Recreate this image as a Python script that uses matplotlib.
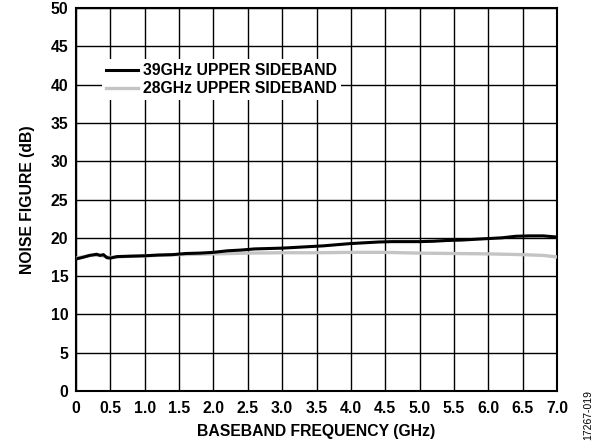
import matplotlib
matplotlib.use("Agg")
import matplotlib.pyplot as plt

freq_39 = [0.03, 0.1, 0.2, 0.3, 0.35, 0.4, 0.45, 0.5, 0.6, 0.8, 1.0, 1.2, 1.4, 1.6, 1.8,
           2.0, 2.2, 2.4, 2.6, 2.8, 3.0, 3.2, 3.4, 3.6, 3.8, 4.0, 4.2, 4.4, 4.6, 4.8,
           5.0, 5.2, 5.4, 5.6, 5.8, 6.0, 6.2, 6.4, 6.6, 6.8, 7.0]
nf_39 = [17.3, 17.45, 17.7, 17.85, 17.7, 17.8, 17.4, 17.35, 17.55, 17.6, 17.65, 17.75, 17.8, 17.95, 18.0,
         18.1, 18.3, 18.4, 18.55, 18.6, 18.65, 18.75, 18.85, 18.95, 19.1, 19.25, 19.35, 19.45, 19.5, 19.5,
         19.5, 19.55, 19.65, 19.7, 19.8, 19.9, 20.0, 20.2, 20.25, 20.25, 20.1]

freq_28 = [0.03, 0.2, 0.35, 0.45, 0.5, 0.8, 1.0, 1.2, 1.5, 2.0, 2.5, 3.0, 3.5, 4.0, 4.5,
           5.0, 5.5, 6.0, 6.5, 6.8, 7.0]
nf_28 = [17.4, 17.7, 17.7, 17.5, 17.45, 17.6, 17.65, 17.7, 17.8, 17.9, 18.0, 18.05, 18.05, 18.1, 18.1,
         18.0, 17.95, 17.9, 17.8, 17.7, 17.5]

x_ticks = [0, 0.5, 1.0, 1.5, 2.0, 2.5, 3.0, 3.5, 4.0, 4.5, 5.0, 5.5, 6.0, 6.5, 7.0]
x_labels = ["0", "0.5", "1.0", "1.5", "2.0", "2.5", "3.0", "3.5", "4.0", "4.5", "5.0", "5.5", "6.0", "6.5", "7.0"]
y_ticks = [0, 5, 10, 15, 20, 25, 30, 35, 40, 45, 50]

plt.rcParams['font.family'] = ['Liberation Sans', 'DejaVu Sans']
plt.rcParams['font.weight'] = 'bold'

FS = 11.3

fig = plt.figure(figsize=(6.07, 4.46), dpi=100)
ax = fig.add_axes([76/607, 55/446, 481/607, 383/446])

ax.plot(freq_28, nf_28, color='#c4c4c4', lw=2.4, label='28GHz UPPER SIDEBAND', zorder=3)
ax.plot(freq_39, nf_39, color='black', lw=2.2, label='39GHz UPPER SIDEBAND', zorder=4)

ax.set_xlim(0, 7.0)
ax.set_ylim(0, 50)
ax.set_xticks(x_ticks)
ax.set_xticklabels(x_labels, fontsize=FS, fontweight='bold')
ax.set_yticks(y_ticks)
ax.set_yticklabels([str(v) for v in y_ticks], fontsize=FS, fontweight='bold')
ax.tick_params(axis='x', length=0, pad=7)
ax.tick_params(axis='y', length=0, pad=5.5)
ax.grid(True, color='black', lw=1.0)
for s in ax.spines.values():
    s.set_linewidth(1.5)

ax.set_xlabel('BASEBAND FREQUENCY (GHz)', fontsize=FS, fontweight='bold', labelpad=6)
ax.set_ylabel('NOISE FIGURE (dB)', fontsize=FS, fontweight='bold', labelpad=11)

h, l = ax.get_legend_handles_labels()
leg = ax.legend([h[1], h[0]], [l[1], l[0]], loc='upper left', bbox_to_anchor=(0.055, 0.866),
                frameon=True, fancybox=False, edgecolor='none', framealpha=1,
                prop={'size': FS, 'weight': 'bold'}, handlelength=2.0, handletextpad=0.35,
                labelspacing=0.2, borderpad=0.25, borderaxespad=0)

fig.text(588/607, 1 - 415/446, '17267-019', rotation=90, fontsize=7.5, fontweight='normal',
         ha='center', va='center')

fig.savefig('out.png', dpi=100)
